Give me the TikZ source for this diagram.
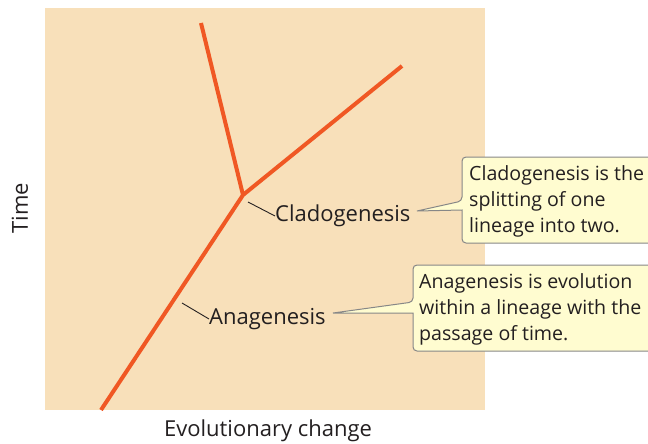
\documentclass[tikz,border=0pt]{standalone}
\usepackage{fontspec}
\setmainfont{Open Sans}
\definecolor{peach}{RGB}{248,224,186}
\definecolor{branchc}{RGB}{240,88,36}
\definecolor{notefill}{RGB}{255,252,208}
\definecolor{notedraw}{RGB}{135,135,135}
\definecolor{ink}{RGB}{35,31,32}
\begin{document}
\begin{tikzpicture}[x=1pt,y=-1pt,
  branch/.style={draw=branchc,line width=4pt,line join=miter},
  lbl/.style={text=ink,font=\fontsize{22}{26}\selectfont,inner sep=0pt},
  axis/.style={text=ink,font=\fontsize{22}{26}\selectfont,inner sep=0pt},
  notetxt/.style={text=ink,font=\fontsize{19.6}{26}\selectfont,inner sep=0pt,align=left},
  leader/.style={draw=ink,line width=0.9pt},
  callout/.style={fill=notefill,draw=notedraw,line width=1pt}]
\useasboundingbox (0,0) rectangle (648,444);
\fill[peach] (45,8) rectangle (485,410);
% branches
\coordinate (base) at (101,410);
\coordinate (fork) at (243,195);
\coordinate (tl) at (201,23);
\coordinate (tr) at (402,66);
\draw[branch] (base) -- (fork) -- (tr);
\draw[branch] (fork) -- (tl);
% labels
\node[lbl,anchor=west] (clado) at (275,216) {Cladogenesis};
\node[lbl,anchor=west] (ana) at (209,319) {Anagenesis};
\coordinate (cl1) at (248,202);
\coordinate (an1) at (182,303);
\draw[leader] (cl1) -- (clado.west);
\draw[leader] (an1) -- (ana.west);
% callouts
\filldraw[callout,rounded corners=4pt] (652,157) -- (462,157) -- (462,201) [sharp corners] -- (417,211) -- (462,210) [rounded corners=4pt] -- (462,243) -- (652,243);
\filldraw[callout,rounded corners=4pt] (652,265) -- (413,265) -- (413,302) [sharp corners] -- (333,313) -- (413,313) [rounded corners=4pt] -- (413,351) -- (652,351);
\node[notetxt,anchor=north west] (cnote) at (469,165) {Cladogenesis is the\\splitting of one\\lineage into two.};
\node[notetxt,anchor=north west] (anote) at (419,273) {Anagenesis is evolution\\within a lineage with the\\passage of time.};
% axes
\node[axis,rotate=90] (time) at (20,208) {Time};
\node[axis] (evo) at (268,431) {Evolutionary change};
\end{tikzpicture}
\end{document}
